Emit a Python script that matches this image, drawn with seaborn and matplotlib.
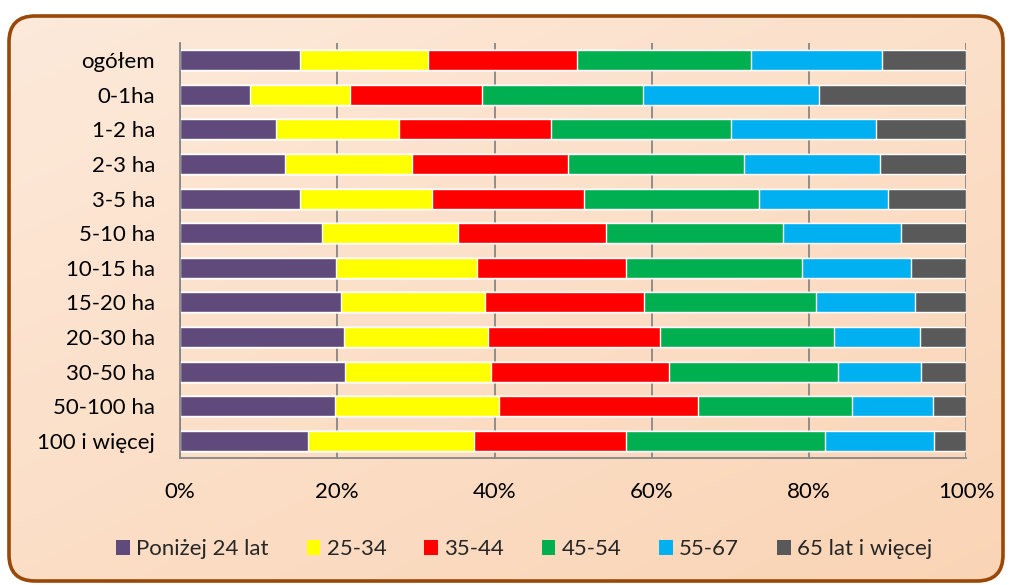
import numpy as np
import pandas as pd
import matplotlib
matplotlib.use("Agg")
import matplotlib.pyplot as plt
from matplotlib.patches import FancyBboxPatch, Patch
from matplotlib.ticker import FixedLocator, PercentFormatter
import seaborn as sns

# Farm-size groups (top to bottom)
groups = ["ogółem", "0-1ha", "1-2 ha", "2-3 ha", "3-5 ha", "5-10 ha", "10-15 ha",
          "15-20 ha", "20-30 ha", "30-50 ha", "50-100 ha", "100 i więcej"]

# Age-class shares of farm managers, % of each group
age_labels = ["Poniżej 24 lat", "25-34", "35-44", "45-54", "55-67", "65 lat i więcej"]
under_24 = [15.2, 8.9, 12.2, 13.4, 15.2, 18.0, 19.8, 20.5, 20.9, 21.0, 19.7, 16.3]
age_25_34 = [16.3, 12.7, 15.7, 16.1, 16.8, 17.3, 17.9, 18.3, 18.3, 18.5, 20.9, 21.1]
age_35_44 = [19.0, 16.8, 19.3, 19.8, 19.4, 18.9, 19.0, 20.2, 21.8, 22.7, 25.2, 19.3]
age_45_54 = [22.1, 20.5, 22.8, 22.4, 22.2, 22.5, 22.4, 21.9, 22.1, 21.5, 19.6, 25.3]
age_55_67 = [16.7, 22.3, 18.5, 17.3, 16.4, 15.0, 13.9, 12.6, 11.0, 10.5, 10.4, 13.9]
over_65 = [10.7, 18.8, 11.5, 11.0, 10.0, 8.3, 7.0, 6.5, 5.9, 5.8, 4.2, 4.1]

colors = ["#604A7B", "#FFFF00", "#FF0000", "#00B050", "#00B0F0", "#595959"]

df = pd.DataFrame(
    np.array([under_24, age_25_34, age_35_44, age_45_54, age_55_67, over_65]).T,
    index=groups, columns=age_labels)
share = df.div(df.sum(axis=1), axis=0) * 100
cum = share.cumsum(axis=1)

sns.set_style("white")
plt.rcParams["font.family"] = ["Lato", "DejaVu Sans"]
FS = 16

W, H = 1012, 585
fig = plt.figure(figsize=(W / 100, H / 100), dpi=100)
fig.patch.set_facecolor("white")

# Rounded panel with a soft peach gradient
bg = fig.add_axes([0, 0, 1, 1], zorder=-10)
bg.set_xlim(0, W)
bg.set_ylim(H, 0)
bg.axis("off")
panel = FancyBboxPatch((9, 16), W - 18, H - 20,
                       boxstyle="round,pad=0,rounding_size=26",
                       facecolor="none", edgecolor="#984807", linewidth=2.6, zorder=3)
bg.add_patch(panel)
yy, xx = np.mgrid[0:1:200j, 0:1:300j]
t = np.clip(0.45 * xx + 0.55 * yy, 0, 1)
c0 = np.array([253, 234, 219]) / 255
c1 = np.array([250, 212, 181]) / 255
grad = c0[None, None, :] * (1 - t[..., None]) + c1[None, None, :] * t[..., None]
im = bg.imshow(grad, extent=(0, W, H, 0), aspect="auto", zorder=1, interpolation="bilinear")
clip = FancyBboxPatch((9, 16), W - 18, H - 20,
                      boxstyle="round,pad=0,rounding_size=26",
                      facecolor="none", edgecolor="none", transform=bg.transData)
im.set_clip_path(clip)

ax = fig.add_axes([180 / W, 1 - 458 / H, 786.5 / W, 415 / H])
ax.set_facecolor("none")

# Stacked bars: draw cumulative totals from the last class back to the first
for col, color in reversed(list(zip(age_labels, colors))):
    sns.barplot(x=cum[col].values, y=groups, orient="h", color=color,
                saturation=1, width=0.58, errorbar=None, ax=ax, zorder=2)

ax.set_xlim(0, 100)
ax.set_ylim(len(groups) - 0.5, -0.5)
ax.set_xlabel("")
ax.set_ylabel("")

grid_c = "#868686"
ax.xaxis.set_major_locator(FixedLocator([0, 20, 40, 60, 80, 100]))
ax.xaxis.set_major_formatter(PercentFormatter(decimals=0))
ax.grid(axis="x", color=grid_c, linewidth=1.3, zorder=0)
ax.set_axisbelow(True)

for s in ["top", "right"]:
    ax.spines[s].set_visible(False)
for s in ["left", "bottom"]:
    ax.spines[s].set_color(grid_c)
    ax.spines[s].set_linewidth(1.3)

ax.tick_params(axis="x", which="major", direction="out", length=6, width=1.3,
               color=grid_c, labelsize=FS, pad=11, labelcolor="black")
ax.tick_params(axis="y", which="major", length=0, labelsize=FS, pad=18,
               labelcolor="black")
ax.yaxis.set_minor_locator(FixedLocator(np.arange(-0.5, len(groups), 1)))
ax.tick_params(axis="y", which="minor", direction="out", length=7, width=1.3,
               color=grid_c)

handles = [Patch(facecolor=c, edgecolor="none", label=l) for l, c in zip(age_labels, colors)]
fig.legend(handles=handles, loc="center", bbox_to_anchor=(0.518, 0.061), ncol=6,
           frameon=False, fontsize=FS, handlelength=0.62, handleheight=0.62,
           handletextpad=0.28, columnspacing=1.7)

fig.savefig("out.png", dpi=100, facecolor="white")
